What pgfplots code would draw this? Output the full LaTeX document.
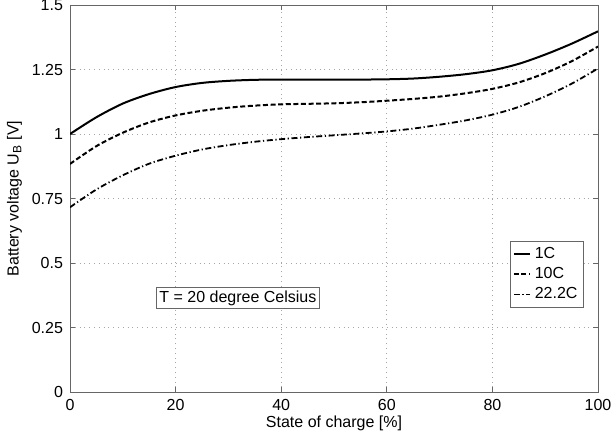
\documentclass[border=0pt]{standalone}
\usepackage{fontspec}
\setmainfont{Liberation Sans}
\usepackage{pgfplots}
\pgfplotsset{compat=1.18}
\begin{document}
\begin{tikzpicture}[font=\fontsize{8}{9.5}\selectfont]
\begin{axis}[
  scale only axis,
  width=264pt, height=193.5pt,
  xmin=0, xmax=100, ymin=0, ymax=1.5,
  xtick={0,20,40,60,80,100},
  ytick={0,0.25,0.5,0.75,1,1.25,1.5},
  yticklabels={0,0.25,0.5,0.75,1,1.25,1.5},
  /pgf/number format/assume math mode=true,
  grid=major,
  major grid style={gray!70, dotted, line width=0.4pt},
  axis line style={gray!80!black, line width=0.5pt},
  tick style={gray!80!black, line width=0.5pt},
  tick align=inside,
  major tick length=2.5pt,
  xtick pos=both, ytick pos=both,
  xlabel={State of charge [\%]},
  ylabel={Battery voltage U$_\mathrm{B}$ [V]},
  xlabel style={yshift=4pt},
  ylabel style={yshift=-2pt},
  legend style={at={(0.9735,0.217)}, anchor=south east, draw=gray!80!black,
    line width=0.5pt, inner sep=1pt, row sep=-1pt,
    font=\fontsize{8}{9.5}\selectfont},
  legend cell align=left,
  legend image code/.code={\draw[#1] (0pt,0pt) -- (8pt,0pt);},
]
\addplot[black, line width=1pt, smooth] coordinates {
(0,1.000) (5,1.065) (10,1.118) (15,1.155) (20,1.182) (25,1.198) (30,1.206)
(35,1.210) (40,1.211) (45,1.211) (50,1.211) (55,1.211) (60,1.212) (65,1.215)
(70,1.222) (75,1.232) (80,1.247) (85,1.272) (90,1.308) (95,1.350) (100,1.398)};
\addlegendentry{1C}
\addplot[black, line width=1pt, smooth, dash pattern=on 2.5pt off 1.3pt] coordinates {
(0,0.884) (5,0.953) (10,1.005) (15,1.045) (20,1.072) (25,1.090) (30,1.102)
(35,1.110) (40,1.115) (45,1.117) (50,1.119) (55,1.123) (60,1.129) (65,1.136)
(70,1.145) (75,1.158) (80,1.175) (85,1.200) (90,1.236) (95,1.282) (100,1.339)};
\addlegendentry{10C}
\addplot[black, line width=0.9pt, smooth, dash pattern=on 3pt off 1.3pt on 0.6pt off 1.3pt] coordinates {
(0,0.716) (5,0.785) (10,0.840) (15,0.885) (20,0.916) (25,0.940) (30,0.957)
(35,0.970) (40,0.980) (45,0.988) (50,0.995) (55,1.002) (60,1.010) (65,1.021)
(70,1.036) (75,1.053) (80,1.075) (85,1.105) (90,1.146) (95,1.195) (100,1.254)};
\addlegendentry{22.2C}
\node[draw=gray!80!black, line width=0.5pt, fill=white, inner sep=1.5pt]
  at (axis cs:31.8,0.363) {T = 20 degree Celsius};
\end{axis}
\pgfresetboundingbox
\path ([shift={(-35pt,-21.5pt)}]current axis.south west)
  rectangle ([shift={(7.5pt,2.5pt)}]current axis.north east);
\end{tikzpicture}
\end{document}
